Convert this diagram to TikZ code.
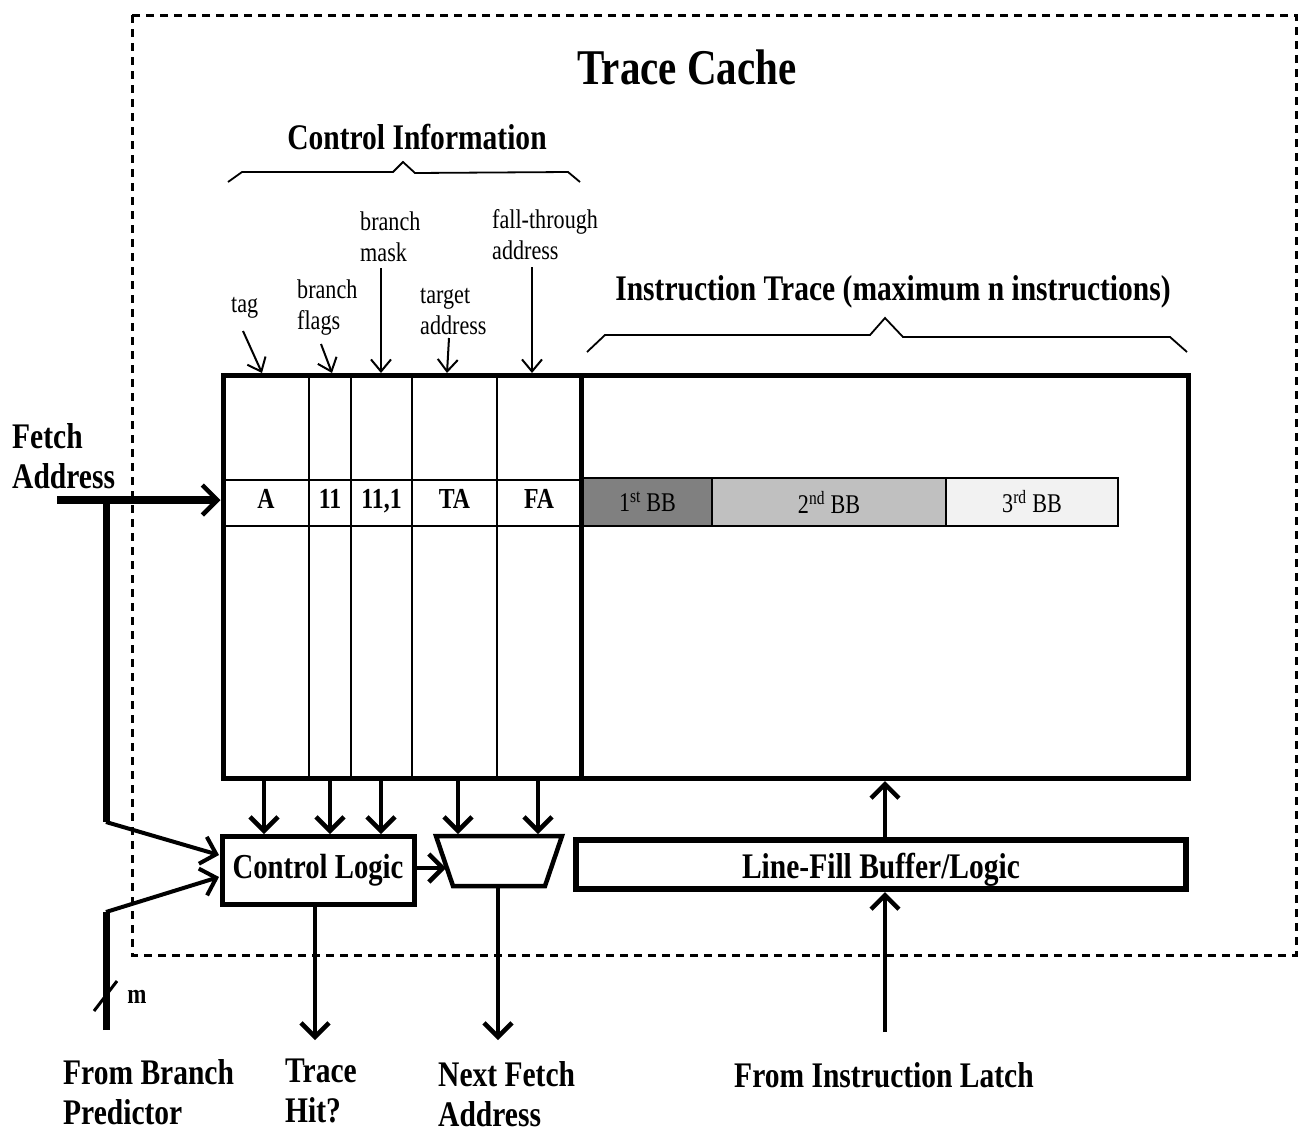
\documentclass[tikz,border=0pt]{standalone}
\usepackage{fontspec}
\setmainfont{Liberation Serif}[FakeStretch=0.82]
\usetikzlibrary{arrows.meta}
\definecolor{bbdark}{RGB}{128,128,128}
\definecolor{bbmid}{RGB}{192,192,192}
\definecolor{bblight}{RGB}{242,242,242}
\begin{document}
\begin{tikzpicture}[x=1pt,y=-1pt,
  lbl/.style={font=\fontsize{27}{31}\selectfont, align=left, inner sep=0pt},
  blbl/.style={font=\bfseries\fontsize{36}{40}\selectfont, align=left, inner sep=0pt},
  cell/.style={font=\bfseries\fontsize{29}{33}\selectfont, inner sep=0pt,
               text height=28pt, text depth=6pt},
  bbcell/.style={draw, line width=2pt, minimum height=48pt, inner sep=0pt,
                 font=\fontsize{27}{31}\selectfont},
  heavybox/.style={draw, line width=5pt, inner sep=0pt},
  tip/.style={-{Straight Barb[length=14pt,width=28pt]}},
  bus/.style={line width=4.5pt, tip},
  pointer/.style={line width=2pt, -{Straight Barb[length=12pt,width=20pt]}},
  brace/.style={line width=1.8pt, line join=miter},
]
\useasboundingbox (0,0) rectangle (1298,1133);

% dashed outline of the trace cache
\draw[line width=3pt, dash pattern=on 8pt off 6pt] (132,15) rectangle (1296,955);
\node[font=\bfseries\fontsize{50}{56}\selectfont, inner sep=0pt] (title) at (687,67) {Trace Cache};

% control information heading and brace
\node[blbl] (ctrlinfo) at (417,137) {Control Information};
\draw[brace] (228,182) -- (242,172) -- (393,172) -- (403,162) -- (415,173) -- (568,172) -- (580,182);

% instruction trace heading and brace
\node[blbl] (itrace) at (893,292) {Instruction Trace (maximum n instructions)};
\draw[brace] (587,352) -- (605,335) -- (870,335) -- (885,318) -- (903,337) -- (1170,337) -- (1187,352);

% trace cache line storage
\node[heavybox, minimum width=965pt, minimum height=403pt] (tc) at (705.5,576.5) {};
\draw[line width=5pt] (581,375) -- (581,778);
\foreach \x in {309,351,412,497} \draw[line width=1.6pt] (\x,375) -- (\x,778);
\draw[line width=2pt] (223,480) -- (581,480) (223,526) -- (581,526);

% control fields of one line
\node[cell] (fa) at (266,497) {A};
\node[cell] (fb) at (330,497) {11};
\node[cell] (fc) at (381.5,497) {11,1};
\node[cell] (fd) at (454.5,497) {TA};
\node[cell] (fe) at (539,497) {FA};

% basic blocks of the trace
\node[bbcell, fill=bbdark, minimum width=129pt] (bb1) at (647.5,502) {1\textsuperscript{st} BB};
\node[bbcell, fill=bbmid, minimum width=234pt] (bb2) at (829,502) {2\textsuperscript{nd} BB};
\node[bbcell, fill=bblight, minimum width=172pt] (bb3) at (1032,502) {3\textsuperscript{rd} BB};

% field labels
\node[lbl, anchor=west] (ltag) at (231,308) {tag};
\node[lbl, anchor=west] (lflags) at (297,308) {branch\\flags};
\node[lbl, anchor=west] (lmask) at (360,237) {branch\\mask};
\node[lbl, anchor=west] (ltarget) at (420,312) {target\\address};
\node[lbl, anchor=west] (lfall) at (492,235) {fall-through\\address};

\coordinate (ptag0) at (243,331);   \coordinate (ptag1) at (262,373);
\coordinate (pflg0) at (321,344);   \coordinate (pflg1) at (332,373);
\coordinate (pmsk0) at (381,268);   \coordinate (pmsk1) at (381,373);
\coordinate (ptgt0) at (449,338);   \coordinate (ptgt1) at (447,373);
\coordinate (pfal0) at (532,267);   \coordinate (pfal1) at (532,373);
\draw[pointer] (ptag0) -- (ptag1);
\draw[pointer] (pflg0) -- (pflg1);
\draw[pointer] (pmsk0) -- (pmsk1);
\draw[pointer] (ptgt0) -- (ptgt1);
\draw[pointer] (pfal0) -- (pfal1);

% fetch address input
\node[blbl, anchor=west] (fetch) at (12,456) {Fetch\\Address};
\coordinate (fsrc) at (57,500);
\coordinate (fj) at (106,500);
\coordinate (fbend) at (106,822);
\draw[line width=7.5pt, -{Straight Barb[length=15pt,width=30pt,line width=4.5pt]}]
  (fsrc) -- (fsrc -| tc.west);

% control logic and next-address mux
\node[heavybox, minimum width=192pt, minimum height=68pt,
      font=\bfseries\fontsize{35}{40}\selectfont] (cl) at (318,870) {Control Logic};
\coordinate (mtl) at (436,836);
\coordinate (mtr) at (562,836);
\coordinate (mbr) at (545,886);
\coordinate (mbl) at (453,886);
\draw[line width=4.5pt, line join=miter] (mtl) -- (mtr) -- (mbr) -- (mbl) -- cycle;

\coordinate (clin1) at (219,855);
\coordinate (clin2) at (219,877);
\draw[line width=7pt] (fj) -- (fbend);
\draw[line width=4pt, tip] (fbend) -- (clin1);

\coordinate (bpsrc) at (106,1030);
\coordinate (bpbend) at (106,912);
\draw[line width=7pt] (bpsrc) -- (bpbend);
\draw[line width=4pt, tip] (bpbend) -- (clin2);
% bus-width mark
\coordinate (sl0) at (94,1011);
\coordinate (sl1) at (117,981);
\draw[line width=3pt] (sl0) -- (sl1);
\node[font=\bfseries\fontsize{28}{32}\selectfont, inner sep=0pt] (mlbl) at (137,997) {m};

% fields read out of the selected line
\foreach \x/\n in {264/a,330/b,381/c,458/d,538/e} {
  \coordinate (rd\n0) at (\x,780);
  \coordinate (rd\n1) at (\x,834);
}
\draw[bus] (rda0) -- (rda1);
\draw[bus] (rdb0) -- (rdb1);
\draw[bus] (rdc0) -- (rdc1);
\draw[bus] (rdd0) -- (rdd1);
\draw[bus] (rde0) -- (rde1);

\coordinate (muxin) at (446,868);
\draw[bus] (cl.east |- muxin) -- (muxin);

% outputs
\coordinate (clout) at (315,906);
\coordinate (hit) at (315,1040);
\draw[bus] (clout) -- (hit);
\coordinate (muxout) at (498,888);
\coordinate (nfa) at (498,1040);
\draw[bus] (muxout) -- (nfa);

% line-fill buffer
\node[draw, line width=6pt, minimum width=610pt, minimum height=49pt, inner sep=0pt,
      text height=36pt, text depth=8pt,
      font=\bfseries\fontsize{36}{40}\selectfont] (lf) at (881,864.5) {Line-Fill Buffer/Logic};
\coordinate (lfup0) at (885,837);
\coordinate (lfup1) at (885,781);
\draw[bus] (lfup0) -- (lfup1);
\coordinate (ilsrc) at (885,1032);
\coordinate (ildst) at (885,892);
\draw[bus] (ilsrc) -- (ildst);

% external labels
\node[blbl, anchor=west] (bp) at (63,1092) {From Branch\\Predictor};
\node[blbl, anchor=west] (th) at (285,1091) {Trace\\Hit?};
\node[blbl, anchor=west] (nf) at (438,1094) {Next Fetch\\Address};
\node[blbl] (il) at (884,1075) {From Instruction Latch};
\end{tikzpicture}
\end{document}
